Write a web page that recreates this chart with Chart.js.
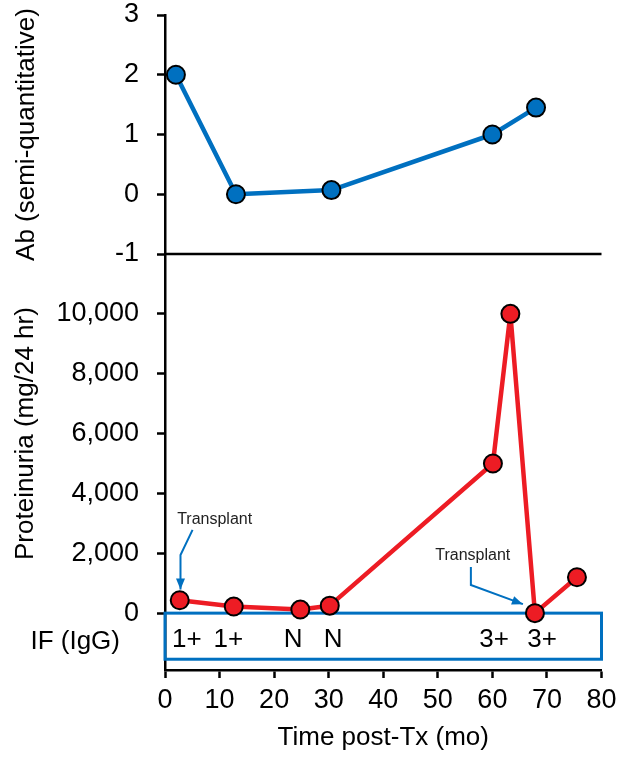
<!DOCTYPE html>
<html><head><meta charset="utf-8">
<script src="https://cdn.jsdelivr.net/npm/chart.js@4/dist/chart.umd.min.js"></script>
<style>html,body{margin:0;padding:0;background:#fff;}#wrap{width:621px;height:760px;}</style>
</head><body><div id="wrap"><canvas id="c" width="621" height="760"></canvas></div>
<script>
// ---- data ----
const abMonths = [2, 13, 30.5, 60, 68];
const abValues = [2, 0, 0.07, 1, 1.45];
const protMonths = [2.7, 12.6, 24.8, 30.2, 60.1, 63.3, 67.8, 75.5];
const protValues = [430, 220, 120, 250, 5000, 10000, 0, 1200];
const abTicks = [-1, 0, 1, 2, 3];
const protTicks = [0, 2000, 4000, 6000, 8000, 10000];
const ifMonths = [4.0, 11.6, 23.5, 30.8, 60.3, 69.1];
const ifLabels = ['1+', '1+', 'N', 'N', '3+', '3+'];
const noteText = ['Transplant', 'Transplant'];
const noteAt = [[9.1, 3110], [56.4, 1910]];
const noteArrow = [
  [[5.05, 2780], [2.84, 1944], [2.84, 790]],
  [[56.06, 1544], [56.06, 942], [65.6, 300]]
];
// ---- styles ----
const FONT = '"Liberation Sans", Arial, Helvetica, sans-serif';
const BLUE = '#0070C0', RED = '#ED1C24';
const IF_LEVEL = -900, IF_BOTTOM = -1540;
const tickFont = {family: FONT, size: 27, lineHeight: 1.1};
const titleFont = {family: FONT, size: 26};

const ds = (xs, ys, color, axis) => ({
  data: xs.map((x, i) => ({x, y: ys[i]})),
  xAxisID: 'x', yAxisID: axis,
  borderColor: color, backgroundColor: color, borderWidth: 4.5,
  borderJoinStyle: 'round',
  pointRadius: 9, pointBorderWidth: 2, pointBorderColor: '#000',
  pointBackgroundColor: color, tension: 0, clip: false
});

const gridOpt = {drawOnChartArea: false, tickLength: 8, tickWidth: 2.5, tickColor: '#000'};
const borderOpt = {color: '#000', width: 2.5};
const fitY = s => { s.width = 165; s.paddingTop = 15; s.paddingBottom = 15; };

const extras = {
  id: 'extras',
  beforeDatasetsDraw(chart) {
    const {ctx, chartArea: a} = chart;
    const x = chart.scales.x, yA = chart.scales.yA, yP = chart.scales.yP;
    ctx.save();
    // line at Ab = -1
    ctx.strokeStyle = '#000'; ctx.lineWidth = 2.5;
    const yl = yA.getPixelForValue(-1);
    ctx.beginPath(); ctx.moveTo(a.left, yl); ctx.lineTo(a.right, yl); ctx.stroke();
    // IF box
    ctx.strokeStyle = BLUE; ctx.lineWidth = 3;
    const bx0 = x.getPixelForValue(0), bx1 = x.getPixelForValue(80);
    const by0 = yP.getPixelForValue(0), by1 = yP.getPixelForValue(IF_BOTTOM);
    ctx.strokeRect(bx0, by0, bx1 - bx0, by1 - by0);
    // IF labels
    ctx.fillStyle = '#000'; ctx.font = '26px ' + FONT;
    ctx.textAlign = 'center'; ctx.textBaseline = 'middle';
    const yi = yP.getPixelForValue(IF_LEVEL);
    ifMonths.forEach((m, i) => ctx.fillText(ifLabels[i], x.getPixelForValue(m), yi));
    ctx.textAlign = 'right';
    ctx.fillText('IF (IgG)', a.left - 45, yi + 2);
    // y titles
    ctx.font = '26px ' + FONT; ctx.textAlign = 'center';
    const drawV = (t, cx, cy) => { ctx.save(); ctx.translate(cx, cy); ctx.rotate(-Math.PI/2); ctx.fillText(t, 0, 0); ctx.restore(); };
    drawV('Ab (semi-quantitative)', 27, (yA.top + yA.bottom) / 2);
    drawV('Proteinuria (mg/24 hr)', 26, (yP.top + yP.getPixelForValue(0)) / 2);
    // annotations
    ctx.font = '16px ' + FONT; ctx.fillStyle = '#222';
    noteText.forEach((t, i) => ctx.fillText(t, x.getPixelForValue(noteAt[i][0]), yP.getPixelForValue(noteAt[i][1])));
    ctx.strokeStyle = BLUE; ctx.fillStyle = BLUE; ctx.lineWidth = 2;
    noteArrow.forEach(path => {
      const pts = path.map(p => [x.getPixelForValue(p[0]), yP.getPixelForValue(p[1])]);
      ctx.beginPath();
      pts.forEach((p, j) => j ? ctx.lineTo(p[0], p[1]) : ctx.moveTo(p[0], p[1]));
      const [tx, ty] = pts[pts.length - 1], [px, py] = pts[pts.length - 2];
      const ang = Math.atan2(ty - py, tx - px);
      ctx.stroke();
      ctx.beginPath();
      ctx.moveTo(tx, ty);
      ctx.lineTo(tx - 11 * Math.cos(ang) + 4.5 * Math.sin(ang), ty - 11 * Math.sin(ang) - 4.5 * Math.cos(ang));
      ctx.lineTo(tx - 11 * Math.cos(ang) - 4.5 * Math.sin(ang), ty - 11 * Math.sin(ang) + 4.5 * Math.cos(ang));
      ctx.closePath(); ctx.fill();
    });
    ctx.restore();
  }
};

new Chart(document.getElementById('c'), {
  type: 'line',
  data: {datasets: [
    ds(protMonths, protValues, RED, 'yP'),
    ds(abMonths, abValues, BLUE, 'yA')
  ]},
  options: {
    responsive: false, animation: false, devicePixelRatio: 1,
    layout: {padding: {top: 0, right: 0, left: 0, bottom: 0}},
    plugins: {legend: {display: false}, tooltip: {enabled: false}},
    scales: {
      x: {
        type: 'linear', position: 'bottom', min: 0, max: 80,
        ticks: {stepSize: 10, color: '#000', font: tickFont, padding: 8, maxRotation: 0, autoSkip: false},
        grid: gridOpt, border: borderOpt,
        title: {display: true, text: 'Time post-Tx (mo)', color: '#000', font: titleFont, padding: {top: 0, bottom: 7}},
        afterFit: s => { s.height = 90; s.paddingRight = 19.5; s.paddingLeft = 0; }
      },
      yP: {
        type: 'linear', position: 'left', stack: 'v', stackWeight: 416,
        min: -1900, max: 12000,
        afterBuildTicks: s => { s.ticks = protTicks.map(v => ({value: v})); },
        ticks: {color: '#000', font: tickFont, padding: 18, autoSkip: false, callback: v => v.toLocaleString('en-US')},
        grid: gridOpt, border: borderOpt,
        afterFit: fitY
      },
      yA: {
        type: 'linear', position: 'left', stack: 'v', stackWeight: 239,
        min: -1, max: 3,
        afterBuildTicks: s => { s.ticks = abTicks.map(v => ({value: v})); },
        ticks: {color: '#000', font: tickFont, padding: 18, autoSkip: false},
        grid: gridOpt, border: borderOpt,
        afterFit: fitY
      }
    }
  },
  plugins: [extras]
});
</script></body></html>
